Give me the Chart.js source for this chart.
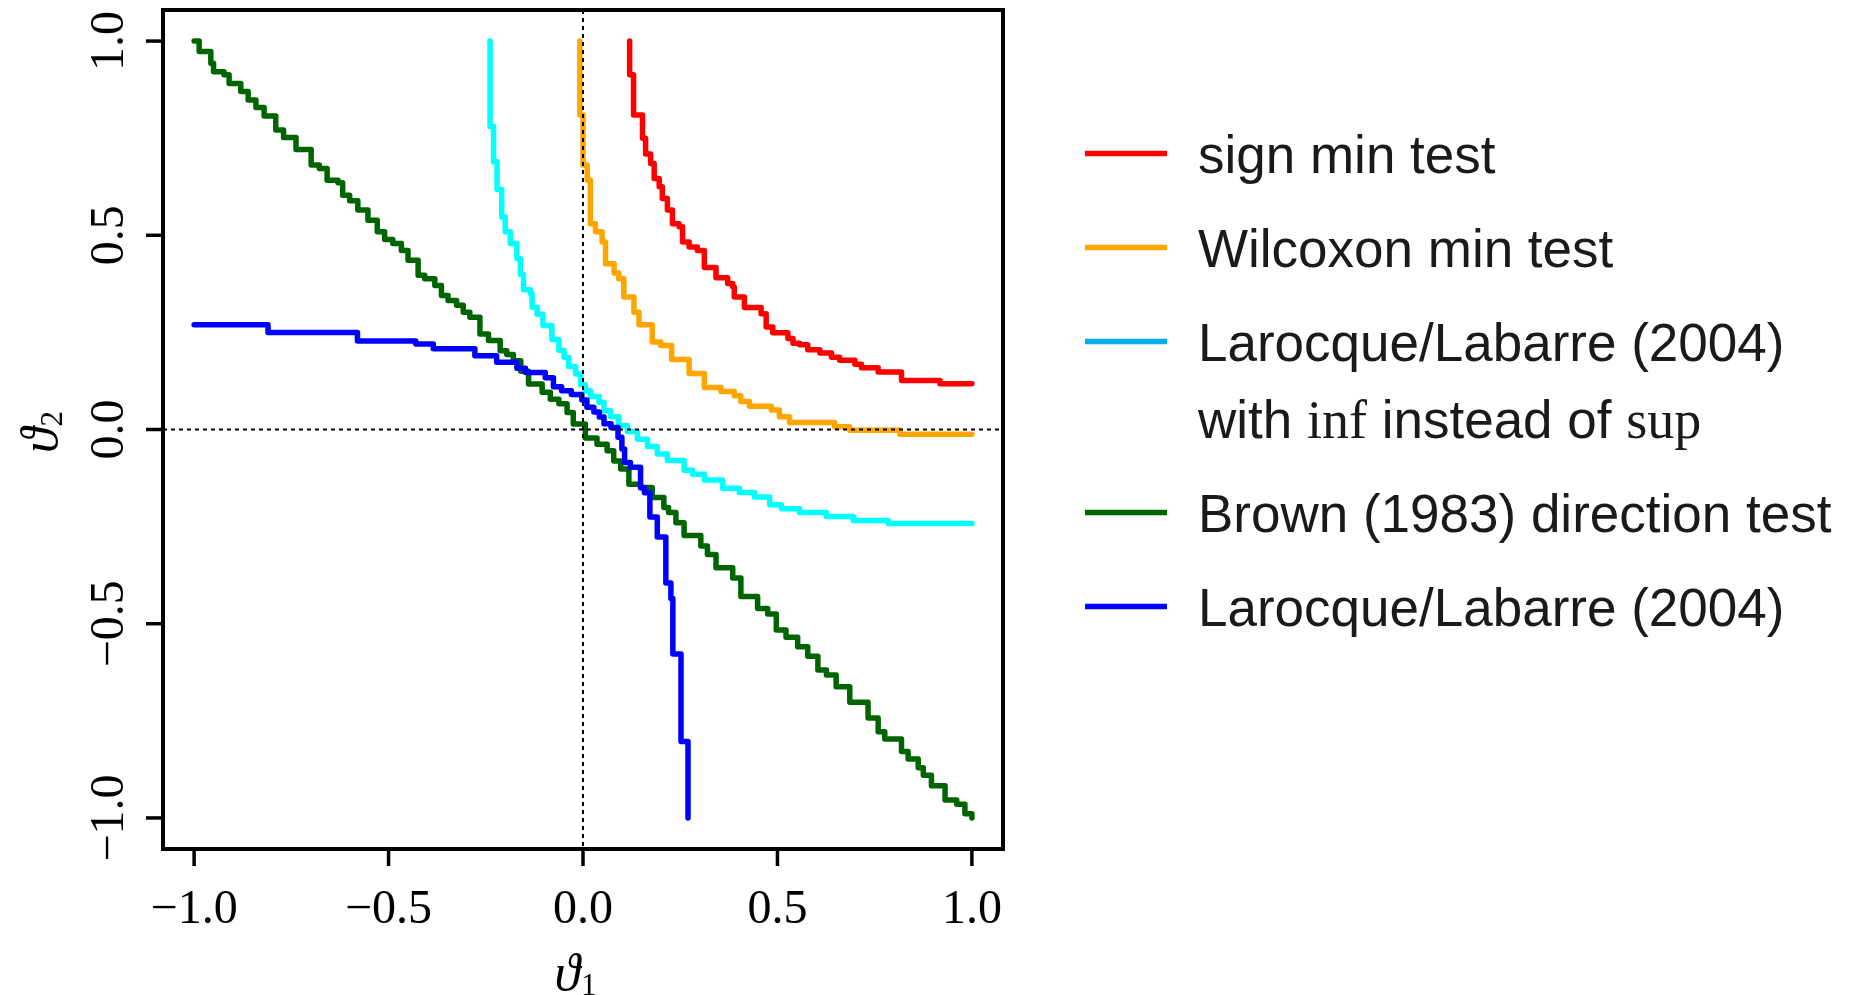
<!DOCTYPE html>
<html>
<head>
<meta charset="utf-8">
<title>Rejection regions of the min tests</title>
<script src="https://cdn.jsdelivr.net/npm/chart.js"></script>
<style>
  html, body { margin: 0; padding: 0; background: #fff; }
  canvas { display: block; }
</style>
</head>
<body>
<canvas id="regionChart" width="1854" height="995"></canvas>
<script>
// Step boundaries (theta1, theta2): each point opens a horizontal run at its level.
const signX = [0.12, 0.12, 0.13, 0.153, 0.161, 0.174, 0.183, 0.196, 0.204, 0.217,
  0.23, 0.247, 0.256, 0.273, 0.294, 0.312, 0.342, 0.372, 0.385, 0.389,
  0.415, 0.458, 0.471, 0.488, 0.527, 0.54, 0.557, 0.578, 0.609, 0.639,
  0.66, 0.699, 0.716, 0.759, 0.819, 0.918, 1.0];
const signY = [1.0, 0.913, 0.81, 0.75, 0.709, 0.685, 0.646, 0.625, 0.595, 0.565,
  0.53, 0.522, 0.483, 0.47, 0.461, 0.417, 0.391, 0.376, 0.367, 0.341,
  0.314, 0.298, 0.264, 0.249, 0.234, 0.222, 0.218, 0.205, 0.197, 0.186,
  0.178, 0.168, 0.159, 0.148, 0.126, 0.118, 0.118];

const wilcoxX = [-0.008, -0.008, 0.0, 0.011, 0.019, 0.032, 0.049, 0.058, 0.08, 0.092,
  0.105, 0.131, 0.144, 0.178, 0.2, 0.228, 0.273, 0.312, 0.355, 0.389,
  0.406, 0.428, 0.484, 0.505, 0.531, 0.647, 0.686, 0.815, 1.0];
const wilcoxY = [1.0, 0.81, 0.681, 0.642, 0.53, 0.509, 0.483, 0.427, 0.403, 0.388,
  0.341, 0.302, 0.27, 0.225, 0.216, 0.18, 0.144, 0.108, 0.098, 0.087,
  0.072, 0.06, 0.05, 0.033, 0.018, 0.007, -0.002, -0.012, -0.012];

const infX = [-0.239, -0.239, -0.23, -0.221, -0.209, -0.2, -0.187, -0.17, -0.161, -0.153,
  -0.135, -0.131, -0.118, -0.103, -0.08, -0.062, -0.049, -0.037, -0.019, -0.006,
  0.006, 0.019, 0.041, 0.054, 0.071, 0.092, 0.114, 0.14, 0.166, 0.191,
  0.217, 0.26, 0.282, 0.312, 0.359, 0.402, 0.441, 0.48, 0.51, 0.557,
  0.626, 0.695, 0.785, 1.0];
const infY = [1.0, 0.78, 0.689, 0.618, 0.547, 0.509, 0.479, 0.44, 0.399, 0.36,
  0.35, 0.315, 0.297, 0.268, 0.232, 0.204, 0.186, 0.162, 0.143, 0.115,
  0.1, 0.085, 0.07, 0.048, 0.033, 0.01, -0.005, -0.025, -0.044, -0.063,
  -0.08, -0.105, -0.115, -0.13, -0.151, -0.162, -0.174, -0.194, -0.204, -0.214,
  -0.224, -0.234, -0.242, -0.242];

const brownX = [-1.0, -0.987, -0.957, -0.95, -0.923, -0.91, -0.88, -0.861, -0.841, -0.82,
  -0.79, -0.77, -0.738, -0.699, -0.678, -0.658, -0.63, -0.618, -0.6, -0.579,
  -0.553, -0.529, -0.51, -0.489, -0.467, -0.45, -0.424, -0.407, -0.381, -0.364,
  -0.347, -0.325, -0.308, -0.291, -0.265, -0.243, -0.213, -0.196, -0.179, -0.16,
  -0.14, -0.105, -0.084, -0.062, -0.041, -0.025, 0.006, 0.036, 0.062, 0.079,
  0.097, 0.118, 0.148, 0.178, 0.208, 0.22, 0.239, 0.26, 0.303, 0.32,
  0.342, 0.385, 0.406, 0.449, 0.475, 0.497, 0.522, 0.552, 0.578, 0.604,
  0.626, 0.651, 0.686, 0.733, 0.759, 0.776, 0.819, 0.836, 0.862, 0.875,
  0.896, 0.931, 0.961, 0.982, 1.0];
const brownY = [1.0, 0.973, 0.943, 0.921, 0.913, 0.891, 0.87, 0.848, 0.829, 0.807,
  0.771, 0.752, 0.721, 0.681, 0.672, 0.642, 0.635, 0.603, 0.589, 0.565,
  0.539, 0.509, 0.489, 0.479, 0.461, 0.436, 0.397, 0.388, 0.371, 0.345,
  0.332, 0.32, 0.302, 0.289, 0.246, 0.229, 0.203, 0.193, 0.177, 0.15,
  0.117, 0.096, 0.078, 0.066, 0.044, 0.014, -0.022, -0.038, -0.055, -0.081,
  -0.102, -0.141, -0.149, -0.175, -0.201, -0.214, -0.24, -0.273, -0.3, -0.322,
  -0.356, -0.382, -0.43, -0.461, -0.475, -0.516, -0.535, -0.559, -0.584, -0.619,
  -0.632, -0.662, -0.702, -0.743, -0.778, -0.797, -0.829, -0.848, -0.871, -0.89,
  -0.917, -0.954, -0.965, -0.989, -1.0];

const llX = [-1.0, -0.81, -0.58, -0.43, -0.385, -0.278, -0.222, -0.17, -0.148, -0.097,
  -0.076, -0.055, -0.03, -0.003, 0.01, 0.028, 0.042, 0.054, 0.072, 0.09,
  0.1, 0.107, 0.122, 0.148, 0.158, 0.172, 0.191, 0.213, 0.226, 0.231,
  0.252, 0.27];
const llY = [0.27, 0.25, 0.228, 0.22, 0.208, 0.19, 0.173, 0.158, 0.147, 0.133,
  0.11, 0.1, 0.09, 0.076, 0.057, 0.045, 0.032, 0.015, 0.005, -0.02,
  -0.05, -0.085, -0.097, -0.15, -0.163, -0.225, -0.277, -0.395, -0.435, -0.578,
  -0.803, -1.0];

const tickValues = [-1, -0.5, 0, 0.5, 1];
const tickLabels = ['\u22121.0', '\u22120.5', '0.0', '0.5', '1.0'];
const axisLimit = 1.08;

const fonts = {
  sans: '53px "Liberation Sans", Arial, sans-serif',
  serif: '54px "Liberation Serif", "Times New Roman", serif',
  tick: '48px "Liberation Serif", "Times New Roman", serif',
  symbol: 'italic 52px "Liberation Serif", "DejaVu Serif", serif',
  sub: '31px "Liberation Serif", "Times New Roman", serif'
};

// legend text runs per line; the inf/sup operators are set upright in serif
const series = [
  { xs: signX, ys: signY, color: '#ff0000', key: '#ff0000', order: 4,
    lines: [[['sign min test', 'sans']]] },
  { xs: wilcoxX, ys: wilcoxY, color: '#ffa500', key: '#ffa500', order: 3,
    lines: [[['Wilcoxon min test', 'sans']]] },
  { xs: infX, ys: infY, color: '#00ffff', key: '#00adef', order: 2,
    lines: [[['Larocque/Labarre (2004)', 'sans']],
            [['with ', 'sans'], ['inf', 'serif'], [' instead of ', 'sans'], ['sup', 'serif']]] },
  { xs: brownX, ys: brownY, color: '#006400', key: '#006400', order: 1,
    lines: [[['Brown (1983) direction test', 'sans']]] },
  { xs: llX, ys: llY, color: '#0000ff', key: '#0000ff', order: 0,
    lines: [[['Larocque/Labarre (2004)', 'sans']]] }
];

const toPoints = (xs, ys) => xs.map((x, i) => ({ x: x, y: ys[i] }));

// frame, origin lines, axes, titles and legend
const decorations = {
  id: 'decorations',
  afterDatasetsDraw(chart) {
    const { ctx, chartArea: area } = chart;
    const sx = chart.scales.x, sy = chart.scales.y;
    const x0 = sx.getPixelForValue(0);
    const y0 = sy.getPixelForValue(0);

    ctx.save();
    ctx.strokeStyle = '#000';
    ctx.fillStyle = '#000';

    ctx.lineWidth = 2;
    ctx.setLineDash([4, 4]);
    ctx.beginPath();
    ctx.moveTo(x0, area.top);
    ctx.lineTo(x0, area.bottom);
    ctx.moveTo(area.left, y0);
    ctx.lineTo(area.right, y0);
    ctx.stroke();
    ctx.setLineDash([]);

    ctx.lineWidth = 4;
    ctx.strokeRect(area.left, area.top, area.right - area.left, area.bottom - area.top);

    ctx.lineWidth = 3.5;
    ctx.font = fonts.tick;
    ctx.textAlign = 'center';
    ctx.textBaseline = 'alphabetic';
    tickValues.forEach((v, i) => {
      const px = sx.getPixelForValue(v);
      ctx.beginPath();
      ctx.moveTo(px, area.bottom);
      ctx.lineTo(px, area.bottom + 17);
      ctx.stroke();
      ctx.fillText(tickLabels[i], px, area.bottom + 74);

      const py = sy.getPixelForValue(v);
      ctx.beginPath();
      ctx.moveTo(area.left, py);
      ctx.lineTo(area.left - 17, py);
      ctx.stroke();
      ctx.save();
      ctx.translate(area.left - 40, py);
      ctx.rotate(-Math.PI / 2);
      ctx.fillText(tickLabels[i], 0, 0);
      ctx.restore();
    });

    // axis titles: theta with subscript
    const drawTitle = (index) => {
      ctx.textAlign = 'left';
      ctx.font = fonts.symbol;
      const wT = ctx.measureText('\u03d1').width;
      ctx.font = fonts.sub;
      const wS = ctx.measureText(index).width;
      const start = -(wT + wS) / 2;
      ctx.font = fonts.symbol;
      ctx.fillText('\u03d1', start, 0);
      ctx.font = fonts.sub;
      ctx.fillText(index, start + wT + 1, 5);
    };
    ctx.save();
    ctx.translate(x0 - 8, area.bottom + 141);
    drawTitle('1');
    ctx.restore();
    ctx.save();
    ctx.translate(area.left - 106, y0 + 3);
    ctx.rotate(-Math.PI / 2);
    drawTitle('2');
    ctx.restore();

    // legend
    const keyLeft = area.right + 82;
    const textLeft = area.right + 195;
    let rowY = 153.5;
    ctx.textAlign = 'left';
    ctx.fillStyle = '#1a1a1a';
    series.forEach(s => {
      ctx.strokeStyle = s.key;
      ctx.lineWidth = 5.5;
      ctx.beginPath();
      ctx.moveTo(keyLeft, rowY);
      ctx.lineTo(keyLeft + 82, rowY);
      ctx.stroke();
      s.lines.forEach((runs, j) => {
        let tx = textLeft;
        const base = rowY + 19 + j * 77;
        runs.forEach(([text, face]) => {
          ctx.font = fonts[face];
          ctx.fillText(text, tx, base);
          tx += ctx.measureText(text).width;
        });
      });
      rowY += 94 + 77 * (s.lines.length - 1);
    });
    ctx.restore();
  }
};

new Chart(document.getElementById('regionChart'), {
  type: 'line',
  data: {
    datasets: series.map(s => ({
      label: s.lines[0][0][0],
      data: toPoints(s.xs, s.ys),
      borderColor: s.color,
      borderWidth: 5.5,
      borderCapStyle: 'round',
      borderJoinStyle: 'round',
      stepped: true,
      pointRadius: 0,
      fill: false,
      order: s.order
    }))
  },
  options: {
    responsive: false,
    animation: false,
    events: [],
    layout: { padding: { left: 163, top: 10, right: 851, bottom: 146 } },
    plugins: { legend: { display: false }, tooltip: { enabled: false } },
    scales: {
      x: { type: 'linear', min: -axisLimit, max: axisLimit, display: false },
      y: { type: 'linear', min: -axisLimit, max: axisLimit, display: false }
    }
  },
  plugins: [decorations]
});
</script>
</body>
</html>
